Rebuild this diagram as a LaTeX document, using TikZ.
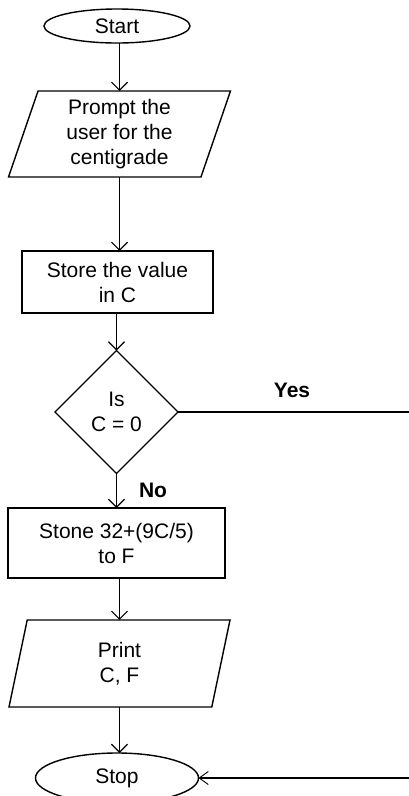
\documentclass[tikz,border=0pt]{standalone}
\usepackage{fontspec}
\setmainfont{Liberation Sans}
\usetikzlibrary{shapes.geometric,arrows.meta}
\begin{document}
\begin{tikzpicture}[x=1pt,y=-1pt,
  every node/.style={font=\fontsize{21}{25}\selectfont, align=center, outer sep=0pt},
  flowline/.style={line width=1.2pt},
  arr/.style={flowline, -{Straight Barb[length=8pt,width=16pt,line width=1.2pt]}},
  thinarr/.style={flowline, -{Straight Barb[length=9pt,width=13pt,line width=0.9pt]}},
  term/.style={draw, ellipse, line width=1.4pt, inner sep=0pt},
  io/.style={draw, trapezium, trapezium left angle=67, trapezium right angle=113,
    trapezium stretches body, line width=1.4pt, inner sep=0pt},
  proc/.style={draw, rectangle, line width=1.4pt, inner sep=0pt},
  dec/.style={draw, diamond, line width=1.4pt, inner sep=0pt},
  lbl/.style={font=\fontsize{21}{25}\selectfont\bfseries}
]
\fill[white] (0,0) rectangle (409,796);
\path[use as bounding box] (0,0) rectangle (409,796);
\clip (0,0) rectangle (409,796);

\node[term, minimum width=146pt, minimum height=34pt] (start) at (117,26) {Start};
\node[io, minimum width=222pt, minimum height=86pt] (prompt) at (119.5,134) {Prompt the\\user for the\\centigrade};
\node[proc, minimum width=191pt, minimum height=62pt] (store) at (117.5,282) {Store the value\\in C};
\node[dec, minimum width=123pt, minimum height=123pt] (dec) at (116.5,412) {Is\\C = 0};
\node[proc, minimum width=217pt, minimum height=70pt] (calc) at (116.5,543) {Stone 32+(9C/5)\\to F};
\node[io, minimum width=221pt, minimum height=87pt] (print) at (119.5,663.5) {Print\\C, F};
\node[term, minimum width=163pt, minimum height=50pt] (stop) at (117,778) {Stop};

\coordinate (yesend) at (409,412);
\coordinate (stopin) at (409,778);

\node[lbl] (yes) at (292,390) {Yes};
\node[lbl] (no) at (153,490) {No};

\draw[arr] (start.south -| prompt.north) -- (prompt.north);
\draw[arr] (prompt.south) -- (prompt.south |- store.north);
\draw[arr] (store.south -| dec.north) -- (dec.north);
\draw[arr] (dec.south) -- (dec.south |- calc.north);
\draw[arr] (calc.south -| print.north) -- (print.north);
\draw[arr] (print.south) -- (print.south |- stop.north);
\draw[flowline] (dec.east) -- (yesend);
\draw[thinarr] (stopin) -- (stop.east);
\end{tikzpicture}
\end{document}
